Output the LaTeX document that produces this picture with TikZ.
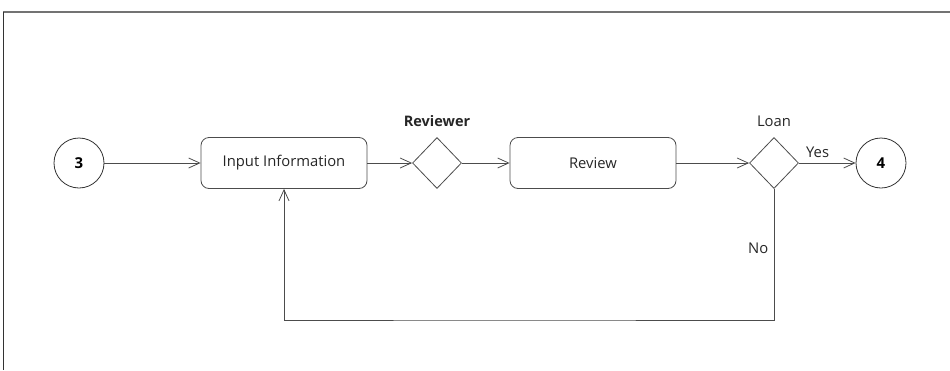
\documentclass[tikz,border=0pt]{standalone}
\usepackage{fontspec}
\setmainfont{Open Sans}
\usetikzlibrary{shapes.geometric,arrows.meta}
\tikzset{
  act/.style={draw=black!70, line width=0.8pt, rounded corners=8pt, minimum width=166pt, minimum height=51pt, font=\fontsize{14.8}{17}\selectfont, text=black!85},
  decide/.style={draw=black!70, line width=0.8pt, diamond, minimum width=49pt, minimum height=51pt, inner sep=0pt},
  conn/.style={draw=black!80, line width=0.8pt, circle, minimum size=50pt, inner sep=0pt, font=\fontsize{15}{17}\selectfont\bfseries},
  lbl/.style={font=\fontsize{14.8}{17}\selectfont, text=black!85},
  flow/.style={draw=black!70, line width=0.8pt, -{Straight Barb[length=11pt,width=10pt]}}
}
\begin{document}
\begin{tikzpicture}[x=1pt,y=-1pt]
\path[use as bounding box] (0,0) rectangle (950,370);
\draw[black!55, line width=1.3pt] (3,12) -- (950,12);
\draw[black!80, line width=0.7pt] (3,12) -- (3,370);
\node[conn] (c3) at (79,163) {3};
\node[act] (input) at (284,163) {Input Information};
\node[decide] (rev) at (437,163) {};
\node[lbl, font=\fontsize{14.5}{17}\selectfont\bfseries] (revlbl) at (437,121) {Reviewer};
\node[act] (review) at (593,163) {Review};
\node[decide] (loan) at (774,163) {};
\node[lbl] (loanlbl) at (774,121) {Loan};
\node[conn] (c4) at (881,163) {4};
\coordinate (low) at (500,320);
\draw[flow] (c3) -- (input);
\draw[flow] (input) -- (rev);
\draw[flow] (rev) -- (review);
\draw[flow] (review) -- (loan);
\draw[flow] (loan) -- node[lbl, pos=0.33, above, yshift=2pt]{Yes} (c4);
\draw[flow] (loan.south) |- node[lbl, pos=0.227, left, xshift=-2pt]{No} (low) -| (input.south);
\end{tikzpicture}
\end{document}
